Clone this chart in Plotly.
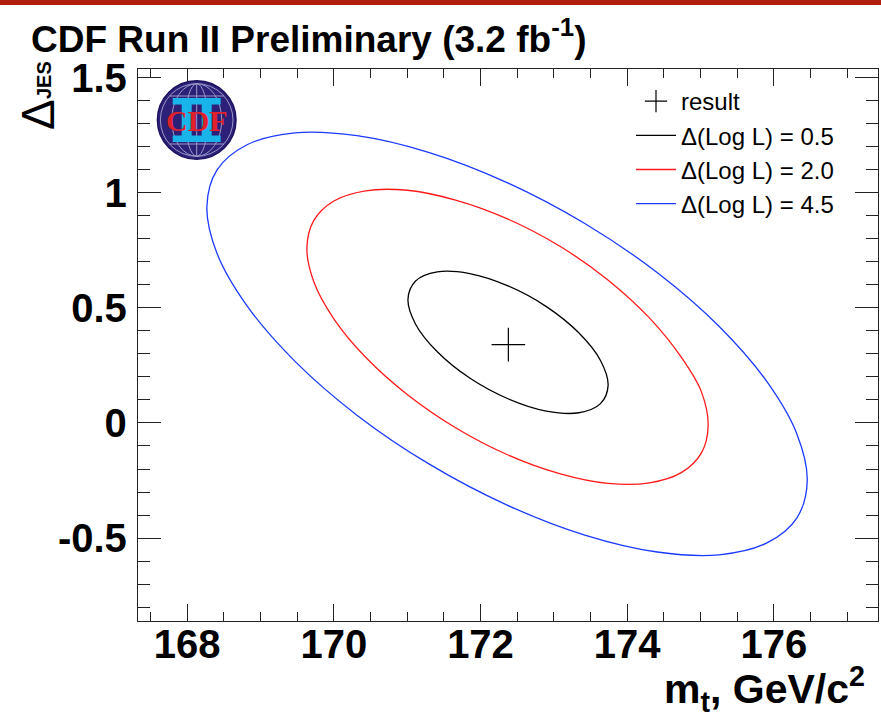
import plotly.graph_objects as go

# ---- data ----
result_mt = [172.38]
result_jes = [0.34]

# Delta(Log L) = 0.5 contour
c05_mt = [173.740, 173.636, 173.340, 172.898, 172.375, 171.853, 171.411, 171.115,
          171.011, 171.115, 171.411, 171.853, 172.375, 172.898, 173.340, 173.636]
c05_jes = [0.1633, 0.0838, 0.0443, 0.0517, 0.1051, 0.1950, 0.3089, 0.4288,
           0.5369, 0.6164, 0.6559, 0.6486, 0.5951, 0.5052, 0.3914, 0.2715]

# Delta(Log L) = 2.0 contour
c20_mt = [175.104, 175.011, 174.737, 174.303, 173.737, 173.077, 172.368, 171.660,
          171.001, 170.434, 170.000, 169.726, 169.633, 169.726, 170.000, 170.434,
          171.001, 171.660, 172.368, 173.077, 173.737, 174.303, 174.737, 175.011]
c20_jes = [-0.0117, -0.1308, -0.2159, -0.2602, -0.2624, -0.2198, -0.1381, -0.0209,
           0.1234, 0.2850, 0.4522, 0.6142, 0.7598, 0.8788, 0.9639, 1.0082,
           1.0104, 0.9678, 0.8862, 0.7685, 0.6212, 0.4561, 0.2854, 0.1360]

# Delta(Log L) = 4.5 contour
c45_mt = [176.455, 176.315, 175.906, 175.255, 174.408, 173.422, 172.362, 171.302,
          170.315, 169.468, 168.817, 168.408, 168.269, 168.408, 168.817, 169.468,
          170.315, 171.302, 172.362, 173.422, 174.408, 175.255, 175.906, 176.315]
c45_jes = [-0.2507, -0.4118, -0.5208, -0.5725, -0.5604, -0.4870, -0.3566, -0.1790,
           0.0339, 0.2685, 0.5082, 0.7359, 0.9379, 1.0990, 1.2081, 1.2598,
           1.2476, 1.1742, 1.0439, 0.8662, 0.6533, 0.4188, 0.1790, -0.0487]

x_tickvals = [168, 170, 172, 174, 176]
x_ticktext = ["168", "170", "172", "174", "176"]
y_tickvals = [-0.5, 0, 0.5, 1, 1.5]
y_ticktext = ["-0.5", "0", "0.5", "1", "1.5"]

legend_names = ["result", "\u0394(Log L) = 0.5", "\u0394(Log L) = 2.0", "\u0394(Log L) = 4.5"]

FONT = "Liberation Sans, Arial, Helvetica, sans-serif"
SERIF = "Liberation Serif, Times New Roman, serif"

fig = go.Figure()

fig.add_trace(go.Scatter(
    x=result_mt, y=result_jes, mode="markers", name=legend_names[0],
    marker=dict(symbol="cross-thin", size=24, color="black",
                line=dict(color="black", width=1.2)),
))


def closed(a):
    return list(a) + [a[0]]


for mt, jes, col, nm in [(c05_mt, c05_jes, "#000000", legend_names[1]),
                         (c20_mt, c20_jes, "#ff1a1a", legend_names[2]),
                         (c45_mt, c45_jes, "#1a3aff", legend_names[3])]:
    fig.add_trace(go.Scatter(
        x=closed(mt), y=closed(jes), mode="lines", name=nm,
        line=dict(color=col, width=1.3, shape="spline", smoothing=1.0),
    ))

L, R, T, B = 138, 3, 69, 97
W, H = 881, 718
pw, ph = W - L - R, H - T - B


def px(xp):
    return (xp - L) / pw


def py(yp):
    return (H - B - yp) / ph


axis_common = dict(
    showline=True, linecolor="#222222", linewidth=1.3, mirror="ticks",
    ticks="inside", tickcolor="#222222", tickwidth=1.2,
    showgrid=False, zeroline=False,
    tickfont=dict(family=FONT, size=40, color="black", weight="bold"),
    tickmode="array",
)

fig.update_layout(
    width=W, height=H, autosize=False,
    margin=dict(l=L, r=R, t=T, b=B),
    paper_bgcolor="white", plot_bgcolor="white",
    showlegend=True,
    legend=dict(x=px(631), y=py(79), xanchor="left", yanchor="top",
                bgcolor="rgba(0,0,0,0)", borderwidth=0,
                font=dict(family=FONT, size=24, color="black"),
                itemwidth=40, tracegroupgap=0),
    xaxis=dict(range=[167.33, 177.42], tickvals=x_tickvals, ticktext=x_ticktext,
               ticklen=17, ticklabelstandoff=-12,
               minor=dict(dtick=0.5, tick0=0, ticklen=8.5, ticks="inside",
                          tickcolor="#222222", tickwidth=1.2),
               **axis_common),
    yaxis=dict(range=[-0.86, 1.537], tickvals=y_tickvals, ticktext=y_ticktext,
               ticklen=23, ticklabelstandoff=2,
               minor=dict(dtick=0.1, tick0=0, ticklen=12, ticks="inside",
                          tickcolor="#222222", tickwidth=1.2),
               **axis_common),
)

shapes = []
# top red band
shapes.append(dict(type="rect", xref="paper", yref="paper", x0=px(0), x1=px(W),
                   y0=py(5), y1=py(0), fillcolor="#b01e0e", line=dict(width=0),
                   layer="above"))

# CDF logo (circle with grid lines, cyan II and red CDF)
cx, cy = px(196.7), py(120)
Rr = 39.3


def pshape(kind, x0, x1, y0, y1, **kw):
    d = dict(type=kind, xref="paper", yref="paper", xsizemode="pixel", ysizemode="pixel",
             xanchor=cx, yanchor=cy, x0=x0, x1=x1, y0=y0, y1=y1, layer="above")
    d.update(kw)
    return d


shapes.append(pshape("circle", -Rr, Rr, -Rr, Rr, fillcolor="#2c2078",
                     line=dict(color="#1c1260", width=1.5)))
shapes.append(pshape("circle", -Rr + 3, Rr - 3, -Rr + 3, Rr - 3,
                     line=dict(color="#9a9ac8", width=1)))
for rx in (11, 25):
    shapes.append(pshape("circle", -rx, rx, -Rr + 3, Rr - 3,
                         line=dict(color="#9a9ac8", width=1)))
for dy in (-24, 24):
    half = (36.3 ** 2 - dy ** 2) ** 0.5
    shapes.append(pshape("line", -half, half, dy, dy, line=dict(color="#9a9ac8", width=1)))
shapes.append(pshape("line", 0, 0, -Rr + 3, Rr - 3, line=dict(color="#9a9ac8", width=1)))
# cyan roman numeral II
cyan = "#18b4ea"
shapes.append(pshape("rect", -24, 24, 15.5, 22, fillcolor=cyan, line=dict(width=0)))
shapes.append(pshape("rect", -24, 24, -22, -15.5, fillcolor=cyan, line=dict(width=0)))
shapes.append(pshape("rect", -15, -5, -22, 22, fillcolor=cyan, line=dict(width=0)))
shapes.append(pshape("rect", 5, 15, -22, 22, fillcolor=cyan, line=dict(width=0)))

fig.update_layout(shapes=shapes)

annotations = [
    dict(text="<b>CDF Run II Preliminary (3.2 fb<sup>-1</sup>)</b>", xref="paper", yref="paper",
         x=px(29), y=py(37), xanchor="left", yanchor="middle", showarrow=False,
         font=dict(family=FONT, size=37, color="black")),
    dict(text="<b>m<sub>t</sub>, GeV/c<sup>2</sup></b>", xref="paper", yref="paper",
         x=px(867), y=py(689), xanchor="right", yanchor="middle", showarrow=False,
         font=dict(family=FONT, size=41, color="black")),
    dict(text="\u0394", xref="paper", yref="paper", x=px(38), y=py(115),
         xanchor="center", yanchor="middle", showarrow=False, textangle=-90,
         font=dict(family=FONT, size=46, color="black")),
    dict(text="<b>JES</b>", xref="paper", yref="paper", x=px(44), y=py(80),
         xanchor="center", yanchor="middle", showarrow=False, textangle=-90,
         font=dict(family=FONT, size=20, color="black")),
    dict(text="<b>CDF</b>", xref="paper", yref="paper", x=cx, y=cy, yshift=-1,
         xanchor="center", yanchor="middle", showarrow=False,
         font=dict(family=SERIF, size=30, color="#e0202a")),
]
fig.update_layout(annotations=annotations)

fig.write_html("out.html", config={"displayModeBar": False},
               post_script="document.body.style.margin='0px';")
